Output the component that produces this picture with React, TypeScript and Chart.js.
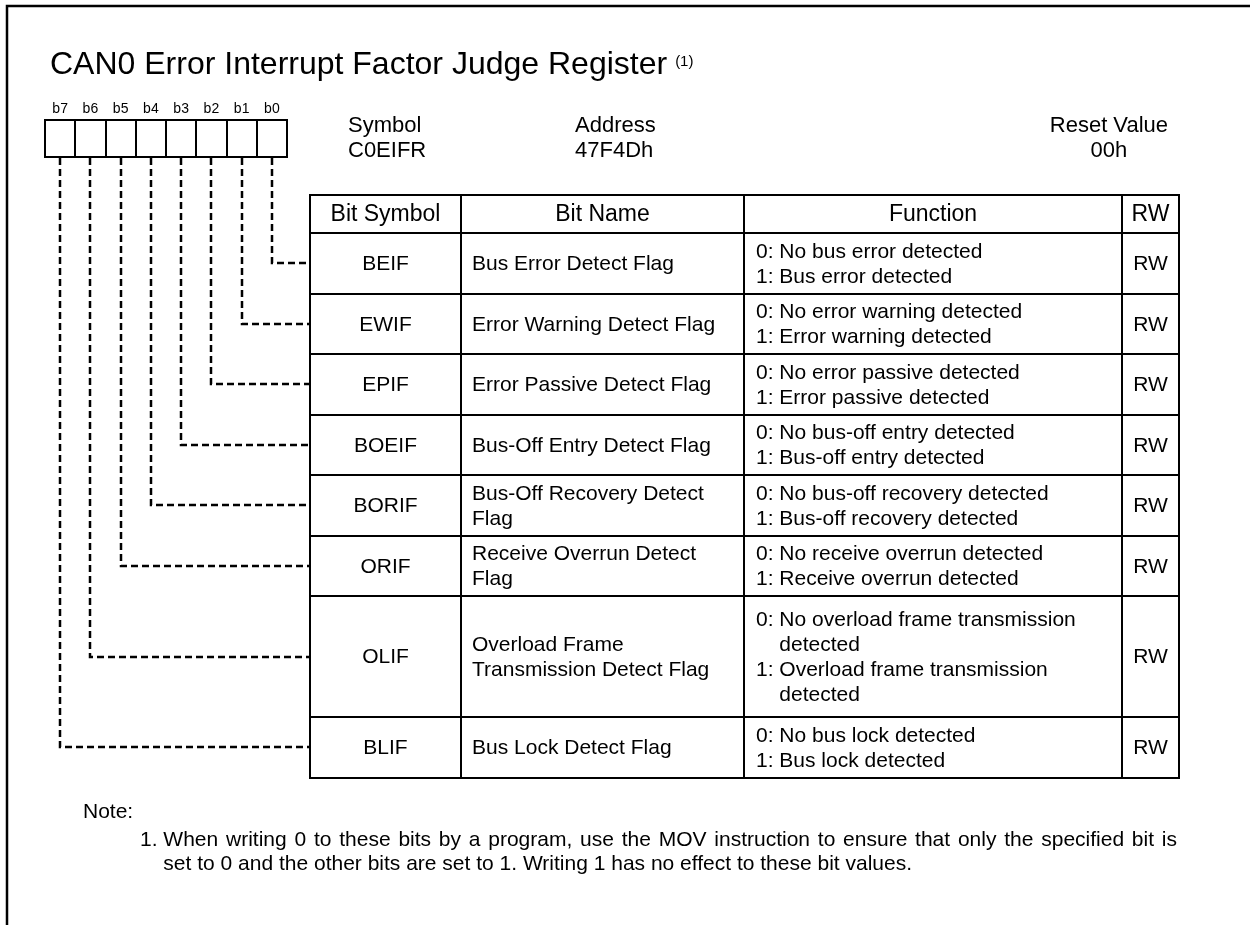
import React, { useEffect, useRef } from 'react';
import { Chart, registerables } from 'chart.js';

Chart.register(...registerables);

// ---------- data ----------
const registerTitle = 'CAN0 Error Interrupt Factor Judge Register';
const titleNoteMark = '(1)';
const bitLabels = ['b7', 'b6', 'b5', 'b4', 'b3', 'b2', 'b1', 'b0'];
const infoLabels = ['Symbol', 'Address', 'Reset Value'];
const infoValues = ['C0EIFR', '47F4Dh', '00h'];
const tableHeaders = ['Bit Symbol', 'Bit Name', 'Function', 'RW'];
const rowBitNumbers = [0, 1, 2, 3, 4, 5, 6, 7];
const bitSymbols = ['BEIF', 'EWIF', 'EPIF', 'BOEIF', 'BORIF', 'ORIF', 'OLIF', 'BLIF'];
const bitNames = [
  ['Bus Error Detect Flag'],
  ['Error Warning Detect Flag'],
  ['Error Passive Detect Flag'],
  ['Bus-Off Entry Detect Flag'],
  ['Bus-Off Recovery Detect', 'Flag'],
  ['Receive Overrun Detect', 'Flag'],
  ['Overload Frame', 'Transmission Detect Flag'],
  ['Bus Lock Detect Flag'],
];
const bitFunctions = [
  ['0: No bus error detected', '1: Bus error detected'],
  ['0: No error warning detected', '1: Error warning detected'],
  ['0: No error passive detected', '1: Error passive detected'],
  ['0: No bus-off entry detected', '1: Bus-off entry detected'],
  ['0: No bus-off recovery detected', '1: Bus-off recovery detected'],
  ['0: No receive overrun detected', '1: Receive overrun detected'],
  ['0: No overload frame transmission', 'detected', '1: Overload frame transmission', 'detected'],
  ['0: No bus lock detected', '1: Bus lock detected'],
];
const bitAccess = ['RW', 'RW', 'RW', 'RW', 'RW', 'RW', 'RW', 'RW'];
const rowUnits = [1, 1, 1, 1, 1, 1, 2, 1];
const noteTitle = 'Note:';
const noteMarker = '1.';
const noteLines = [
  'When writing 0 to these bits by a program, use the MOV instruction to ensure that only the specified bit is',
  'set to 0 and the other bits are set to 1. Writing 1 has no effect to these bit values.',
];

// ---------- layout (diagram units = canvas px) ----------
const W = 1250;
const H = 925;
const FONT = '"Liberation Sans", Arial, Helvetica, sans-serif';
const boxLeft = 45;
const boxW = 30.25;
const boxTop = 120;
const boxBottom = 157;
const colX = [310, 461, 744, 1122, 1179];
const tableTop = 195;
const headerBottom = 233;
const unitH = 60.5;
const lineH = 25;

const rowEdges: number[] = [];
{
  let y = headerBottom;
  rowUnits.forEach((u) => {
    rowEdges.push(y);
    y += u * unitH;
  });
  rowEdges.push(y);
}
const rowTops = rowEdges.map((v) => Math.round(v));
const bitCenterX = (n: number) => Math.round(boxLeft + (7 - n + 0.5) * boxW);
const rowCenterY = (i: number) => (rowEdges[i] + rowEdges[i + 1]) / 2;

const connectorDatasets = rowBitNumbers.map((n, i) => ({
  label: bitSymbols[i],
  data: [
    { x: bitCenterX(n), y: boxBottom + 1 },
    { x: bitCenterX(n), y: Math.round(rowCenterY(i)) },
    { x: colX[0], y: Math.round(rowCenterY(i)) },
  ],
  showLine: true,
  borderColor: '#000',
  borderWidth: 2.5,
  borderDash: [7, 4],
  borderCapStyle: 'butt',
  pointRadius: 0,
  fill: false,
  tension: 0,
}));

const diagramPlugin = {
  id: 'registerDiagram',
  beforeDatasetsDraw(chart: any) {
    const ctx: CanvasRenderingContext2D = chart.ctx;
    const X = (v: number) => chart.scales.x.getPixelForValue(v);
    const Y = (v: number) => chart.scales.y.getPixelForValue(v);
    ctx.save();
    ctx.fillStyle = '#fff';
    ctx.fillRect(0, 0, W, H);
    // frame
    ctx.strokeStyle = '#000';
    ctx.lineWidth = 2.5;
    ctx.beginPath();
    ctx.moveTo(X(7), Y(H));
    ctx.lineTo(X(7), Y(6));
    ctx.lineTo(X(W), Y(6));
    ctx.stroke();
    // title
    ctx.fillStyle = '#000';
    ctx.textBaseline = 'alphabetic';
    ctx.textAlign = 'left';
    ctx.font = `32px ${FONT}`;
    ctx.fillText(registerTitle, X(50), Y(74));
    const tw = ctx.measureText(registerTitle).width;
    ctx.font = `15px ${FONT}`;
    ctx.fillText(titleNoteMark, X(50) + tw + 8, Y(66));
    // bit labels and boxes
    ctx.font = `14px ${FONT}`;
    ctx.textAlign = 'center';
    bitLabels.forEach((b, k) => {
      ctx.fillText(b, X(boxLeft + (k + 0.5) * boxW), Y(113));
    });
    ctx.lineWidth = 2;
    for (let k = 0; k <= 8; k++) {
      const bx = Math.round(boxLeft + k * boxW);
      ctx.beginPath();
      ctx.moveTo(X(bx), Y(boxTop));
      ctx.lineTo(X(bx), Y(boxBottom));
      ctx.stroke();
    }
    ctx.beginPath();
    ctx.moveTo(X(boxLeft - 1), Y(boxTop));
    ctx.lineTo(X(Math.round(boxLeft + 8 * boxW) + 1), Y(boxTop));
    ctx.moveTo(X(boxLeft - 1), Y(boxBottom));
    ctx.lineTo(X(Math.round(boxLeft + 8 * boxW) + 1), Y(boxBottom));
    ctx.stroke();
    // symbol / address / reset value
    ctx.font = `22px ${FONT}`;
    ctx.textAlign = 'left';
    ctx.fillText(infoLabels[0], X(348), Y(132));
    ctx.fillText(infoValues[0], X(348), Y(157));
    ctx.fillText(infoLabels[1], X(575), Y(132));
    ctx.fillText(infoValues[1], X(575), Y(157));
    ctx.textAlign = 'right';
    ctx.fillText(infoLabels[2], X(1168), Y(132));
    const rw = ctx.measureText(infoLabels[2]).width;
    ctx.textAlign = 'center';
    ctx.fillText(infoValues[2], X(1168) - rw / 2, Y(157));
    // notes
    ctx.textAlign = 'left';
    ctx.font = `21px ${FONT}`;
    ctx.fillText(noteTitle, X(83), Y(818));
    const mx = 140;
    ctx.fillText(noteMarker, X(mx), Y(846));
    const indent = ctx.measureText(noteMarker + ' ').width;
    // first line justified to the right margin
    const startX = X(mx) + indent;
    const rightX = X(1177);
    const words = noteLines[0].split(' ');
    const wordsW = words.reduce((s, w) => s + ctx.measureText(w).width, 0);
    const gap = (rightX - startX - wordsW) / (words.length - 1);
    let cx = startX;
    words.forEach((w) => {
      ctx.fillText(w, cx, Y(846));
      cx += ctx.measureText(w).width + gap;
    });
    ctx.fillText(noteLines[1], startX, Y(870));
    ctx.restore();
  },
  afterDatasetsDraw(chart: any) {
    const ctx: CanvasRenderingContext2D = chart.ctx;
    const X = (v: number) => chart.scales.x.getPixelForValue(v);
    const Y = (v: number) => chart.scales.y.getPixelForValue(v);
    ctx.save();
    ctx.strokeStyle = '#000';
    ctx.fillStyle = '#000';
    ctx.lineWidth = 2;
    const bottom = rowTops[rowTops.length - 1];
    colX.forEach((cx) => {
      ctx.beginPath();
      ctx.moveTo(X(cx), Y(tableTop - 1));
      ctx.lineTo(X(cx), Y(bottom + 1));
      ctx.stroke();
    });
    [tableTop, ...rowTops].forEach((ry) => {
      ctx.beginPath();
      ctx.moveTo(X(colX[0] - 1), Y(ry));
      ctx.lineTo(X(colX[4] + 1), Y(ry));
      ctx.stroke();
    });
    // headers
    ctx.textBaseline = 'middle';
    ctx.textAlign = 'center';
    ctx.font = `23px ${FONT}`;
    tableHeaders.forEach((h, c) => {
      ctx.fillText(h, X((colX[c] + colX[c + 1]) / 2), Y((tableTop + headerBottom) / 2 + 1));
    });
    // rows
    ctx.font = `21px ${FONT}`;
    bitSymbols.forEach((s, i) => {
      const cy = rowCenterY(i);
      ctx.textAlign = 'center';
      ctx.fillText(s, X((colX[0] + colX[1]) / 2), Y(cy + 1));
      ctx.fillText(bitAccess[i], X((colX[3] + colX[4]) / 2), Y(cy + 1));
      ctx.textAlign = 'left';
      const names = bitNames[i];
      names.forEach((t, j) => {
        const y = cy + (j - (names.length - 1) / 2) * lineH;
        ctx.fillText(t, X(colX[1] + 11), Y(y + 1));
      });
      const fn = bitFunctions[i];
      const ind = ctx.measureText('0: ').width;
      fn.forEach((t, j) => {
        const y = cy + (j - (fn.length - 1) / 2) * lineH;
        const cont = !/^[01]:/.test(t);
        ctx.fillText(t, X(colX[2] + 12) + (cont ? ind : 0), Y(y + 1));
      });
    });
    ctx.restore();
  },
};

export default function App() {
  const ref = useRef<HTMLCanvasElement | null>(null);
  useEffect(() => {
    if (!ref.current) return;
    const chart = new Chart(ref.current, {
      type: 'scatter',
      data: { datasets: connectorDatasets as any },
      options: {
        animation: false,
        responsive: false,
        maintainAspectRatio: false,
        events: [],
        layout: { padding: 0 },
        plugins: { legend: { display: false }, tooltip: { enabled: false }, title: { display: false } },
        scales: {
          x: { type: 'linear', min: 0, max: W, display: false },
          y: { type: 'linear', min: 0, max: H, reverse: true, display: false },
        },
      },
      plugins: [diagramPlugin],
    });
    return () => chart.destroy();
  }, []);
  return (
    <div style={{ position: 'absolute', left: 0, top: 0, width: W, height: H, background: '#fff' }}>
      <canvas ref={ref} width={W} height={H} style={{ display: 'block', width: W, height: H }} />
    </div>
  );
}
